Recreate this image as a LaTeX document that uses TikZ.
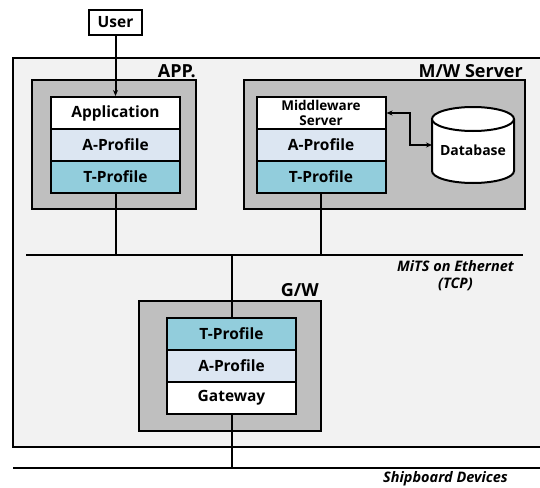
\documentclass[tikz,border=0pt]{standalone}
\usepackage{fontspec}
\setmainfont{Open Sans}[BoldFont={Open Sans Bold}, BoldItalicFont={Open Sans Bold Italic}]
\usetikzlibrary{arrows.meta}
\definecolor{outerfill}{HTML}{F2F2F2}
\definecolor{boxgray}{HTML}{BFBFBF}
\definecolor{aprof}{HTML}{DCE6F2}
\definecolor{tprof}{HTML}{92CDDC}
\tikzset{
  layer/.style={draw, line width=2pt, minimum width=129pt, minimum height=32pt, inner sep=0pt, font=\bfseries\fontsize{15.5}{16}\selectfont, align=center},
  applayer/.style={layer, fill=white},
  alayer/.style={layer, fill=aprof},
  tlayer/.style={layer, fill=tprof},
  hostbox/.style={draw, line width=2pt, fill=boxgray, inner sep=0pt},
  hostlabel/.style={anchor=south east, inner sep=0pt, font=\bfseries\fontsize{18}{20}\selectfont},
  wire/.style={line width=2pt},
  netlabel/.style={font=\bfseries\itshape\fontsize{14.5}{16.5}\selectfont, align=center, inner sep=0pt},
  tip/.style={-{Stealth[length=6pt,width=5pt]}}
}
\begin{document}
\begin{tikzpicture}[x=1pt,y=-1pt]
\useasboundingbox (0,0) rectangle (540,487);
% outer system box
\draw[line width=2pt, fill=outerfill] (13,58) rectangle (545,447);
% host boxes
\node[hostbox, minimum width=164pt, minimum height=129pt] (appbox) at (114,144.5) {};
\node[hostbox, minimum width=281pt, minimum height=129pt] (mwbox) at (384.5,144.5) {};
\node[hostbox, minimum width=182pt, minimum height=130pt] (gwbox) at (230,366) {};
\node[hostlabel] (applbl) at (196,77.5) {APP.};
\node[hostlabel] (mwlbl) at (523,77.5) {M/W Server};
\node[hostlabel] (gwlbl) at (319,296.5) {G/W};
% user
\node[draw, line width=2pt, fill=white, minimum width=53pt, minimum height=25pt, inner sep=0pt, font=\bfseries\fontsize{15.5}{16}\selectfont] (user) at (115.5,22.5) {User};
% APP stack
\node[applayer] (app) at (115.5,113) {Application};
\node[alayer] (aapp) at (115.5,145) {A-Profile};
\node[tlayer] (tapp) at (115.5,177) {T-Profile};
% M/W stack
\node[applayer, font=\bfseries\fontsize{13.5}{15.5}\selectfont] (mw) at (321,113) {Middleware\\Server};
\node[alayer] (amw) at (321,145) {A-Profile};
\node[tlayer] (tmw) at (321,177) {T-Profile};
% database
\draw[line width=2pt, fill=white] (432,119) -- (432,171) arc[start angle=180, end angle=360, x radius=41pt, y radius=12pt] -- (514,119);
\draw[line width=2pt, fill=white] (473,119) ellipse [x radius=41pt, y radius=12pt];
\node[minimum width=82pt, minimum height=76pt, inner sep=0pt] (db) at (473,150) {};
\node[font=\bfseries\fontsize{14}{16}\selectfont] (dbtxt) at (473,150) {Database};
\coordinate (dbw) at (432,145);
\draw[wire, {Stealth[length=6pt,width=5pt]}-{Stealth[length=6pt,width=5pt]}] (mw.east) -- ++(23,0) |- (dbw);
% G/W stack
\node[tlayer] (tgw) at (231.5,334) {T-Profile};
\node[alayer] (agw) at (231.5,366) {A-Profile};
\node[applayer] (gw) at (231.5,398) {Gateway};
% user arrow
\draw[wire, tip] (user.south) -- (app.north);
% bus
\coordinate (busL) at (26,255);
\coordinate (busR) at (523,255);
\draw[wire] (busL) -- (busR);
\draw[wire] (tapp.south) -- (tapp.south |- busL);
\draw[wire] (tmw.south) -- (tmw.south |- busL);
\draw[wire] (tgw.north) -- (tgw.north |- busL);
\node[netlabel] (mits) at (455.5,275.5) {MiTS on Ethernet\\(TCP)};
% shipboard line
\coordinate (shipL) at (13,468);
\coordinate (shipR) at (545,468);
\draw[line width=2.4pt] (shipL) -- (shipR);
\draw[wire] (gw.south) -- (gw.south |- shipL);
\node[netlabel] (ship) at (445.5,479) {Shipboard Devices};
\end{tikzpicture}
\end{document}
